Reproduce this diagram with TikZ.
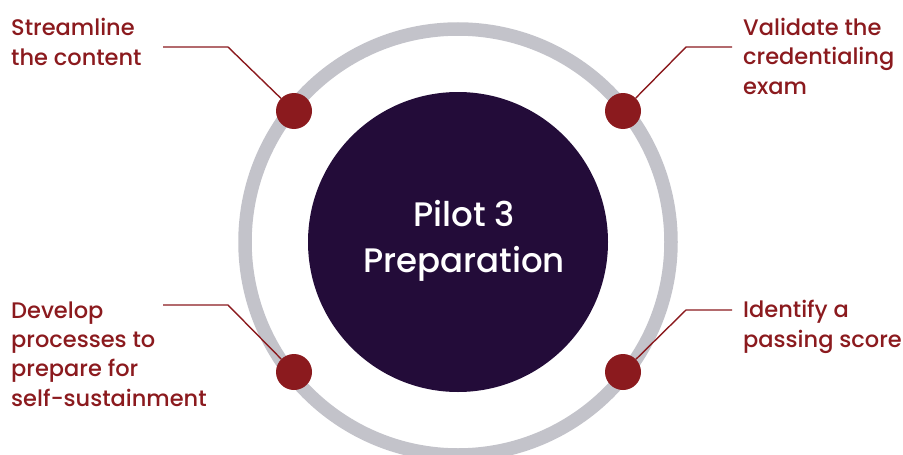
\documentclass[tikz,border=0pt]{standalone}
\usepackage{fontspec}
\setmainfont{Poppins}[UprightFont=* Medium]
\definecolor{ringgray}{HTML}{C3C3CA}
\definecolor{deeppurple}{HTML}{230C39}
\definecolor{brickred}{HTML}{8B1A1E}
\begin{document}
\begin{tikzpicture}[x=1pt,y=-1pt,
  leader/.style={draw=brickred,line width=1.4pt},
  marker/.style={circle,fill=brickred,minimum size=36pt,inner sep=0pt},
  label/.style={anchor=base west,inner sep=0pt,align=left,text=brickred,
    font=\fontsize{22.5}{29.3}\selectfont},
  core/.style={circle,fill=deeppurple,minimum size=300pt,inner sep=0pt}]
  \useasboundingbox (0,0) rectangle (903,455);
  % outer ring
  \draw[ringgray,line width=13.5pt] (458,242) circle[radius=213];
  % central disc
  \node[core] (hub) at (458,242) {};
  \node[text=white,align=center,font=\fontsize{34}{46}\selectfont,anchor=base]
    (title) at (464,272) {Pilot 3\\Preparation};
  % markers on the ring
  \node[marker] (m1) at (294,111) {};
  \node[marker] (m2) at (623,111) {};
  \node[marker] (m3) at (294,372) {};
  \node[marker] (m4) at (623,372) {};
  % elbow points of the leaders
  \coordinate (k1) at (228,47);
  \coordinate (e1) at (163,47);
  \coordinate (k2) at (686,47);
  \coordinate (e2) at (732,47);
  \coordinate (k3) at (228,305);
  \coordinate (e3) at (163,305);
  \coordinate (k4) at (686,310);
  \coordinate (e4) at (732,310);
  \draw[leader] (m1) -- (k1) -- (e1);
  \draw[leader] (m2) -- (k2) -- (e2);
  \draw[leader] (m3) -- (k3) -- (e3);
  \draw[leader] (m4) -- (k4) -- (e4);
  % labels (anchored at the baseline of the last line)
  \node[label] (t1) at (11,65) {Streamline\\the content};
  \node[label] (t2) at (743,94) {Validate the\\credentialing\\exam};
  \node[label] (t3) at (11,406) {Develop\\processes to\\prepare for\\self-sustainment};
  \node[label] (t4) at (743,347) {Identify a\\passing score};
\end{tikzpicture}
\end{document}
